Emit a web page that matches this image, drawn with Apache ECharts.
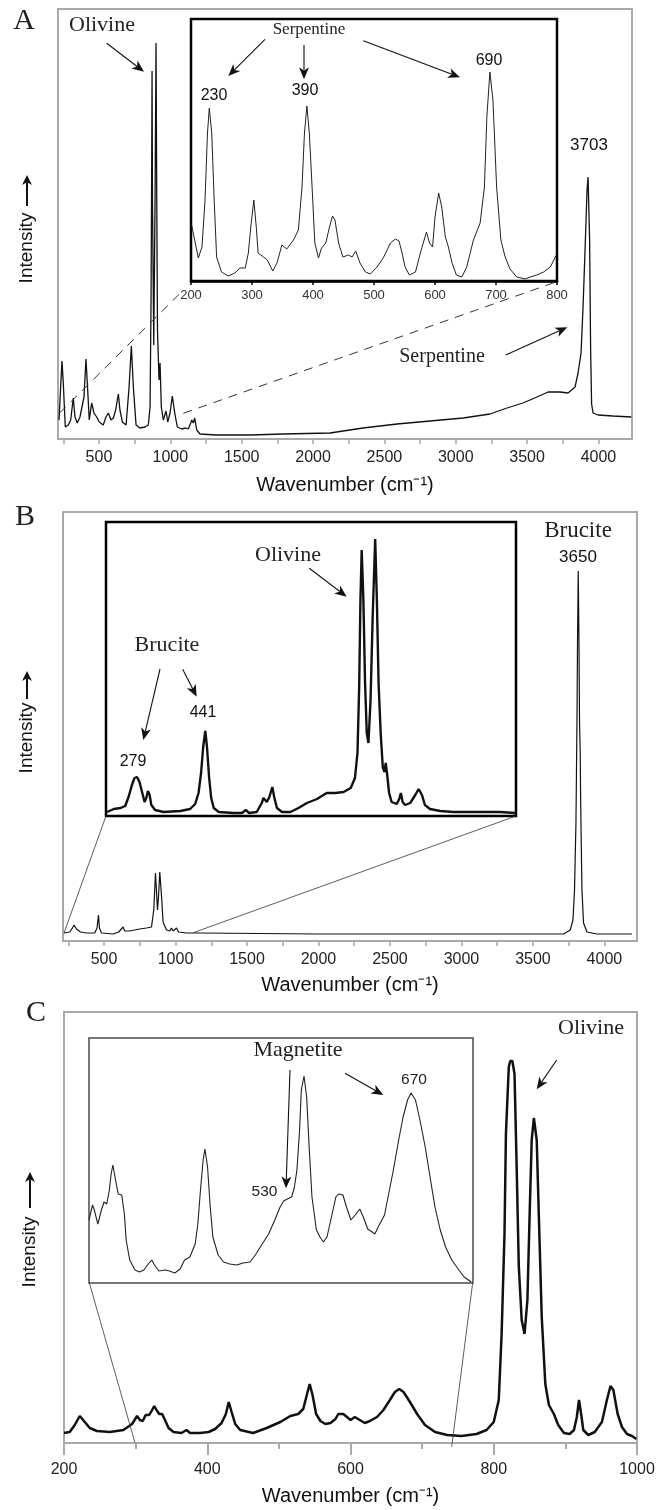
<!DOCTYPE html>
<html>
<head>
<meta charset="utf-8">
<script src="https://cdn.jsdelivr.net/npm/echarts@6/dist/echarts.min.js"></script>
<style>
  html, body { margin: 0; padding: 0; background: #fff; }
  #chart { width: 659px; height: 1510px; }
</style>
</head>
<body>
<div id="chart"></div>
<script>
// Raman spectra: [wavenumber (cm-1), intensity (arb. units)]

// Panel A, full range
const spectrumA = [[220,19],[234,59],[241,78],[250,56],[264,12],[285,14],[302,19],[320,41],[332,22],[348,16],[367,22],[381,21],[395,42],[409,80],[421,49],[432,19],[449,36],[465,26],[484,22],[502,17],[530,14],[549,22],[566,26],[584,19],[601,21],[617,29],[636,45],[647,29],[664,17],[690,14],[711,52],[727,93],[741,52],[760,14],[788,11],[823,12],[846,14],[858,32],[865,139],[870,289],[872,368],[875,239],[884,94],[893,239],[900,396],[905,239],[910,109],[921,59],[928,76],[937,32],[951,19],[970,28],[982,17],[998,26],[1014,43],[1031,26],[1049,12],[1080,10],[1108,11],[1126,10],[1143,16],[1150,19],[1161,16],[1171,21],[1185,9],[1208,5],[1325,4],[1559,4],[1790,5],[2119,6],[2350,11],[2589,15],[2820,18],[3052,21],[3240,25],[3359,31],[3471,36],[3569,42],[3647,47],[3731,47],[3787,46],[3836,52],[3857,66],[3878,86],[3892,132],[3906,189],[3920,249],[3927,262],[3938,199],[3945,90],[3952,35],[3962,26],[3997,24],[4101,23],[4230,22]];

// Panel A, low-wavenumber detail (200-800)
const insetA = [[201,56],[212,23],[218,34],[223,81],[227,148],[230,173],[234,148],[238,81],[242,24],[250,9],[261,5],[272,8],[280,13],[289,13],[294,28],[298,54],[303,81],[307,54],[310,28],[319,24],[325,21],[334,10],[341,18],[349,36],[357,32],[368,41],[376,51],[382,94],[386,148],[390,175],[394,148],[399,88],[403,38],[409,23],[414,33],[421,38],[427,54],[432,65],[436,61],[442,38],[449,24],[458,26],[464,24],[470,30],[477,18],[486,9],[494,7],[505,14],[516,24],[527,38],[535,42],[541,40],[546,28],[551,14],[558,6],[568,9],[576,28],[586,49],[591,38],[596,34],[600,64],[606,88],[611,74],[617,44],[622,34],[628,18],[635,6],[644,4],[652,14],[663,41],[674,58],[681,94],[685,164],[690,209],[695,181],[701,94],[708,41],[715,24],[723,12],[734,4],[748,2],[756,4],[767,6],[778,9],[789,14],[799,26]];

// Panel B, full range
const spectrumB = [[220,8],[260,9],[279,13],[290,16],[307,12],[318,13],[335,9],[377,8],[435,8],[451,13],[461,26],[468,13],[482,8],[563,7],[603,9],[615,11],[633,14],[645,10],[680,10],[750,12],[797,13],[832,14],[848,31],[860,68],[864,69],[874,31],[881,44],[890,69],[897,71],[904,41],[913,19],[923,17],[937,11],[960,10],[972,13],[983,10],[1007,13],[1021,9],[1077,8],[1170,8],[2000,7],[3000,7],[3714,7],[3761,11],[3780,21],[3791,51],[3801,118],[3808,218],[3812,301],[3817,370],[3822,301],[3826,218],[3831,188],[3833,154],[3836,118],[3843,51],[3854,18],[3878,9],[3948,7],[4193,7]];

// Panel B, low-wavenumber detail
const insetB = [[208,4],[224,7],[240,8],[251,10],[259,19],[267,31],[273,38],[279,39],[285,34],[291,24],[297,14],[301,18],[305,25],[309,21],[313,11],[322,6],[342,4],[382,5],[405,7],[417,12],[425,23],[431,43],[436,69],[441,85],[445,69],[450,39],[455,18],[461,8],[473,4],[508,3],[528,3],[537,6],[545,3],[563,4],[575,13],[579,18],[587,14],[593,19],[600,29],[605,18],[611,8],[623,4],[643,4],[662,8],[682,13],[706,17],[729,23],[749,23],[769,24],[786,28],[796,38],[802,63],[806,129],[809,216],[812,266],[816,216],[820,133],[824,83],[828,73],[833,116],[838,199],[844,277],[848,216],[852,133],[857,83],[862,49],[866,44],[869,53],[872,43],[877,23],[883,14],[895,12],[901,17],[905,23],[909,14],[915,11],[927,13],[939,21],[947,27],[955,21],[962,11],[974,7],[998,5],[1030,4],[1061,4],[1101,4],[1140,4],[1176,3]];

// Panel C, 200-1000
const spectrumC = [[200,10],[208,11],[215,18],[222,27],[229,21],[236,15],[246,12],[264,11],[283,13],[295,19],[302,27],[306,23],[310,22],[314,28],[319,28],[323,33],[326,37],[330,32],[333,29],[337,29],[341,23],[346,15],[353,11],[364,10],[371,13],[376,10],[390,10],[402,11],[411,14],[420,20],[426,29],[430,41],[434,31],[439,19],[446,13],[464,10],[483,15],[502,21],[516,27],[527,29],[534,34],[539,48],[543,59],[547,48],[552,29],[558,22],[565,19],[572,20],[579,24],[583,29],[590,29],[595,26],[600,23],[606,26],[613,23],[620,20],[627,22],[637,26],[646,33],[655,43],[662,51],[668,54],[674,51],[683,41],[693,29],[704,18],[718,11],[735,8],[755,7],[776,9],[790,13],[800,21],[807,43],[811,109],[815,209],[817,309],[821,376],[823,382],[826,382],[829,369],[832,276],[835,176],[839,123],[843,109],[847,143],[850,226],[853,303],[856,325],[860,303],[863,226],[867,126],[872,59],[877,38],[884,29],[890,18],[898,10],[906,9],[912,13],[916,26],[919,43],[922,29],[925,13],[932,8],[941,11],[951,21],[958,43],[963,57],[967,53],[973,29],[979,16],[986,9],[993,7],[999,4]];

// Panel C, magnetite region detail
const insetC = [[306,63],[310,78],[312,73],[316,59],[320,73],[323,81],[326,79],[329,93],[331,109],[333,118],[336,103],[339,89],[343,88],[346,69],[348,43],[352,23],[358,13],[363,11],[368,13],[373,19],[377,23],[380,18],[385,12],[392,13],[397,12],[403,10],[409,14],[414,23],[420,26],[426,39],[429,59],[432,93],[435,123],[437,134],[440,116],[443,76],[446,46],[452,28],[458,21],[465,19],[473,18],[480,20],[488,21],[494,28],[501,38],[509,49],[516,63],[522,76],[526,82],[530,84],[535,86],[538,95],[541,113],[544,153],[546,193],[549,207],[552,186],[555,133],[558,86],[563,53],[567,46],[571,41],[575,46],[580,66],[585,86],[588,89],[593,88],[597,76],[602,63],[607,68],[612,74],[616,66],[621,54],[626,51],[629,49],[634,58],[640,68],[644,86],[650,113],[656,143],[661,166],[666,183],[670,190],[675,183],[680,163],[686,136],[692,103],[697,76],[703,53],[709,36],[716,23],[724,13],[730,6],[738,1]];

// Axis ticks and labels for the full-range panels
const fullTicks = [250,500,750,1000,1250,1500,1750,2000,2250,2500,2750,3000,3250,3500,3750,4000];
const fullLabels = [500,1000,1500,2000,2500,3000,3500,4000];

const SANS = '"Liberation Sans", Arial, sans-serif';
const SERIF = '"Liberation Serif", "Times New Roman", serif';
const FRAME = '#a9a9a9';
const AXIS_TITLE = 'Wavenumber (cm\u207B\u00B9)';
const plain = v => String(v);

const grids = [
  { left: 58,  top: 9,    width: 574, height: 430, show: true, borderColor: FRAME, borderWidth: 2, backgroundColor: '#fff' },
  { left: 191, top: 19,   width: 366, height: 262, show: true, borderColor: '#000', borderWidth: 2.5, backgroundColor: '#fff' },
  { left: 63,  top: 512,  width: 574, height: 429, show: true, borderColor: FRAME, borderWidth: 2, backgroundColor: '#fff' },
  { left: 106, top: 522,  width: 410, height: 294, show: true, borderColor: '#000', borderWidth: 2.5, backgroundColor: '#fff' },
  { left: 64,  top: 1012, width: 573, height: 431, show: true, borderColor: FRAME, borderWidth: 2, backgroundColor: '#fff' },
  { left: 89,  top: 1038, width: 384, height: 245, show: true, borderColor: '#4a4a4a', borderWidth: 1.5, backgroundColor: '#fff' }
];

function fullAxis(gridIndex, min, max, nameGap) {
  return {
    gridIndex, type: 'value', min, max,
    axisLine: { show: true, lineStyle: { color: FRAME, width: 2 } },
    axisTick: { show: true, customValues: fullTicks, length: 5, lineStyle: { color: FRAME, width: 1.5 } },
    axisLabel: { customValues: fullLabels, formatter: plain, fontSize: 16, color: '#222', margin: 11, fontFamily: SANS },
    splitLine: { show: false },
    name: AXIS_TITLE, nameLocation: 'middle', nameGap,
    nameTextStyle: { fontSize: 20, color: '#111', fontFamily: SANS }
  };
}
function hiddenAxis(gridIndex, min, max) {
  return { gridIndex, type: 'value', min, max, show: false, splitLine: { show: false } };
}

const xAxes = [
  fullAxis(0, 213, 4235, 36),
  {
    gridIndex: 1, type: 'value', min: 200, max: 800, interval: 100,
    axisLine: { show: true, lineStyle: { color: '#000', width: 2.5 } },
    axisTick: { show: true, length: 4, lineStyle: { color: '#000', width: 1.5 } },
    axisLabel: { formatter: plain, fontSize: 13, color: '#333', margin: 8, fontFamily: SANS },
    splitLine: { show: false }
  },
  fullAxis(2, 213, 4228, 34),
  hiddenAxis(3, 205.5, 1178),
  {
    gridIndex: 4, type: 'value', min: 200, max: 1000, interval: 200,
    axisLine: { show: true, lineStyle: { color: FRAME, width: 2 } },
    axisTick: { show: true, length: 12, lineStyle: { color: FRAME, width: 2 } },
    minorTick: { show: true, splitNumber: 2, length: 6, lineStyle: { color: FRAME, width: 2 } },
    axisLabel: { formatter: plain, fontSize: 16, color: '#222', margin: 19, fontFamily: SANS },
    splitLine: { show: false },
    name: AXIS_TITLE, nameLocation: 'middle', nameGap: 43,
    nameTextStyle: { fontSize: 20, color: '#111', fontFamily: SANS }
  },
  hiddenAxis(5, 306, 740)
];

const yAxes = grids.map((g, i) => hiddenAxis(i, 0, g.height));

function spectrum(i, data, color, width) {
  return {
    type: 'line', xAxisIndex: i, yAxisIndex: i, data,
    symbol: 'none', silent: true, animation: false,
    lineStyle: { color, width }, clip: true
  };
}

// --- annotation helpers ---
function text(x, y, str, family, size, color, extra) {
  return Object.assign({
    type: 'text', x, y, z: 20, silent: true,
    style: {
      text: str, font: size + 'px ' + family, fill: color || '#111',
      align: 'center', verticalAlign: 'middle',
      textAlign: 'center', textVerticalAlign: 'middle'
    }
  }, extra || {});
}
function arrow(x1, y1, x2, y2, opt) {
  opt = opt || {};
  const hl = opt.head || 12, hw = opt.hw || 5, lw = opt.lw || 1.1, col = opt.color || '#111';
  const dx = x2 - x1, dy = y2 - y1, L = Math.hypot(dx, dy);
  const ux = dx / L, uy = dy / L, px = -uy, py = ux;
  const bx = x2 - ux * hl, by = y2 - uy * hl;
  const nx = x2 - ux * hl * 0.72, ny = y2 - uy * hl * 0.72;
  return [
    { type: 'line', z: 20, silent: true, shape: { x1, y1, x2: nx, y2: ny }, style: { stroke: col, lineWidth: lw } },
    { type: 'polygon', z: 20, silent: true,
      shape: { points: [[x2, y2], [bx + px * hw, by + py * hw], [nx, ny], [bx - px * hw, by - py * hw]] },
      style: { fill: col } }
  ];
}
function link(x1, y1, x2, y2, dash) {
  return { type: 'line', z: 20, silent: true, shape: { x1, y1, x2, y2 },
    style: { stroke: '#333', lineWidth: dash ? 1 : 0.8, lineDash: dash ? [9, 7] : null } };
}
function intensityLabel(x, yText, yArrowTail, yArrowHead) {
  return [
    text(x, yText, 'Intensity', SANS, 19, '#111', { rotation: Math.PI / 2 }),
    ...arrow(x, yArrowTail, x, yArrowHead, { head: 10, hw: 5, lw: 2 })
  ];
}

const graphics = [
  // panel letters
  text(24, 21, 'A', SERIF, 30, '#222'),
  text(25, 517, 'B', SERIF, 30, '#222'),
  text(36, 1013, 'C', SERIF, 30, '#222'),

  // y-axis titles
  ...intensityLabel(27, 248, 206, 175),
  ...intensityLabel(27, 738, 699, 671),
  ...intensityLabel(30, 1252, 1208, 1172),

  // panel A
  text(102, 25, 'Olivine', SERIF, 22, '#222'),
  ...arrow(106.7, 43.3, 144, 71.7),
  text(309, 30, 'Serpentine', SERIF, 17, '#222'),
  ...arrow(265, 39.3, 228.3, 76),
  ...arrow(304, 45, 304, 79.3),
  ...arrow(363.3, 40.7, 460, 77.3),
  text(214, 96, '230', SANS, 16, '#111'),
  text(305, 91, '390', SANS, 16, '#111'),
  text(489, 61, '690', SANS, 16, '#111'),
  text(589, 145, '3703', SANS, 17, '#111'),
  text(442, 357, 'Serpentine', SERIF, 20, '#222'),
  ...arrow(505.7, 355, 567.3, 327.3),
  link(59.3, 413.3, 181.7, 291.7, true),
  link(183.3, 413.3, 556.7, 281.7, true),

  // panel B
  text(288, 555, 'Olivine', SERIF, 22, '#222'),
  ...arrow(309.3, 568.3, 346.7, 596.7),
  text(167, 645, 'Brucite', SERIF, 22, '#222'),
  ...arrow(160, 669, 143.3, 740),
  ...arrow(182.7, 669.3, 196.7, 696.7),
  text(203, 713, '441', SANS, 16, '#111'),
  text(133, 762, '279', SANS, 16, '#111'),
  text(578, 531, 'Brucite', SERIF, 23, '#222'),
  text(578, 557, '3650', SANS, 17, '#111'),
  link(106, 816, 64, 933),
  link(516, 816, 193.3, 932.7),

  // panel C
  text(298, 1050, 'Magnetite', SERIF, 22, '#222'),
  ...arrow(290, 1070, 286, 1188.3),
  ...arrow(345, 1073.3, 383.3, 1095),
  text(264.5, 1192, '530', SANS, 15.5, '#222'),
  text(414, 1080, '670', SANS, 15.5, '#222'),
  text(591, 1028, 'Olivine', SERIF, 22, '#222'),
  ...arrow(556.7, 1060, 536.7, 1089.3),
  link(89.3, 1282.7, 135, 1442.7),
  link(472.7, 1282.7, 451.7, 1446.7)
];

const chart = echarts.init(document.getElementById('chart'), null, { renderer: 'canvas' });
chart.setOption({
  animation: false,
  backgroundColor: '#fff',
  grid: grids,
  xAxis: xAxes,
  yAxis: yAxes,
  series: [
    spectrum(0, spectrumA, '#111', 1.3),
    spectrum(1, insetA, '#222', 1),
    spectrum(2, spectrumB, '#111', 1.2),
    spectrum(3, insetB, '#111', 2.4),
    spectrum(4, spectrumC, '#111', 2.5),
    spectrum(5, insetC, '#222', 1.1)
  ],
  graphic: { elements: graphics }
});
</script>
</body>
</html>
